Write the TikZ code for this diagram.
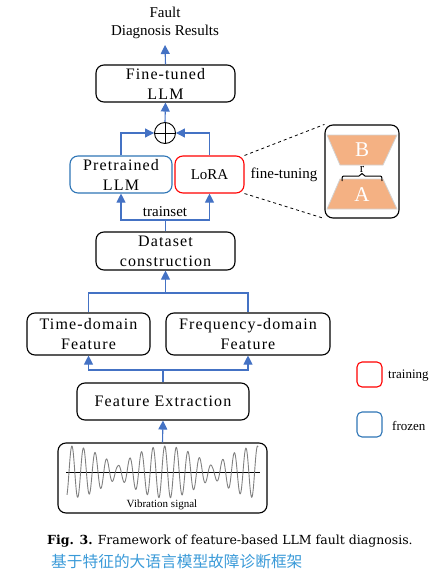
\documentclass[tikz,border=0pt]{standalone}
\usepackage{fontspec}
\setmainfont{Liberation Serif}
\newfontfamily\boxfont[LetterSpace=7]{Liberation Serif}
\newfontfamily\capfont{DejaVu Serif}
\newfontfamily\cjk{Noto Sans CJK SC}
\usetikzlibrary{arrows.meta,calc}
\definecolor{arrowblue}{HTML}{4472C4}
\definecolor{frozenblue}{HTML}{2E75B6}
\definecolor{peach}{HTML}{F4B183}
\definecolor{capblue}{HTML}{3A9AD8}
\begin{document}
\begin{tikzpicture}[x=1pt,y=-1pt,
  box/.style={draw=black, line width=1.1pt, rounded corners=8pt, align=center,
    font=\boxfont\fontsize{16}{20}\selectfont, inner sep=0pt},
  frozenbox/.style={box, draw=frozenblue},
  trainbox/.style={box, draw=red},
  lbl/.style={font=\fontsize{15}{18}\selectfont, align=center, inner sep=0pt},
  conn/.style={draw=arrowblue, line width=1.1pt},
  arr/.style={conn, -{Triangle[width=9pt,length=9pt]}},
  trap/.style={fill=peach, draw=gray!35, line width=0.8pt},
]
\useasboundingbox (0,0) rectangle (442,583);

% result text
\node[lbl, font=\fontsize{15}{18}\selectfont] (res) at (165,23) {Fault\\Diagnosis Results};
\coordinate (restip) at (165,45);

% boxes
\node[box, minimum width=139pt, minimum height=37pt] (ft) at (165.5,83.5) {Fine-tuned\\LLM};
\node[circle, draw=black, line width=0.9pt, minimum size=21pt, inner sep=0pt,
  path picture={\draw[line width=0.9pt] (path picture bounding box.north) -- (path picture bounding box.south)
     (path picture bounding box.west) -- (path picture bounding box.east);}] (plus) at (165,133) {};
\node[frozenbox, minimum width=102pt, minimum height=37pt] (pre) at (121,174.5) {Pretrained\\LLM};
\node[trainbox, minimum width=69pt, minimum height=37pt, font=\fontsize{15}{18}\selectfont] (lora) at (209.5,174.5) {LoRA};
\node[box, minimum width=139pt, minimum height=38pt] (ds) at (165.5,251) {Dataset\\construction};
\node[box, minimum width=123pt, minimum height=42pt] (time) at (88.5,334) {Time-domain\\Feature};
\node[box, minimum width=164pt, minimum height=42pt] (freq) at (248,334) {Frequency-domain\\Feature};
\node[box, minimum width=172pt, minimum height=37pt] (fe) at (163,401.5) {Feature Extraction};
\node[box, minimum width=209pt, minimum height=70pt] (vib) at (162.5,478) {};

% labels
\node[lbl] (trainset) at (165,212) {trainset};
\node[lbl] (ftun) at (284,175) {fine-tuning};

% magnified LoRA
\node[box, minimum width=74pt, minimum height=93pt] (mag) at (362,171.5) {};
\draw[trap] (327,135) -- (397,135) -- (383,165) -- (340,165) -- cycle;
\draw[trap] (340,179) -- (383,179) -- (397,209) -- (327,209) -- cycle;
\node[font=\fontsize{21}{21}\selectfont, text=white] (bl) at (362,150) {B};
\node[font=\fontsize{21}{21}\selectfont, text=white] (al) at (362,194.5) {A};
\draw[black, line width=1pt] (342,181) .. controls (342,176) .. (346,176) -- (359,176) -- (362,173.5) -- (365,176) -- (378,176) .. controls (382,176) .. (382,181);
\node[font=\fontsize{13}{13}\selectfont, inner sep=0pt] (rl) at (362,169) {r};

% connectors
\draw[arr] (ft.north) -- (restip);
\draw[arr] (plus.north) -- (ft.south);
\draw[arr] (pre.north) |- (plus.west);
\draw[arr] (lora.north) |- (plus.east);
\coordinate (j1) at (165.5,220);
\draw[conn] (ds.north) -- (j1);
\draw[arr] (j1) -| (pre.south);
\draw[arr] (j1) -| (lora.south);
\coordinate (j2) at (165.5,293);
\draw[arr] (j2) -- (ds.south);
\draw[conn] (time.north) |- (j2) -| (freq.north);
\coordinate (j3) at (163,370);
\draw[conn] (fe.north) -- (j3);
\draw[arr] (j3) -| (time.south);
\draw[arr] (j3) -| (freq.south);
\draw[arr] (vib.north) -- (fe.south);
\draw[dashed, line width=0.8pt] (lora.north east) -- (mag.north west);
\draw[dashed, line width=0.8pt] (lora.south east) -- (mag.south west);

% waveform
\draw[line width=0.7pt] (66,472) -- (260,472);
\draw[gray, line width=0.9pt] plot[domain=67:258, samples=600, smooth]
  (\x, {472 - (6+20*abs(cos(1.8947*(\x-70))))*sin(31.034*(\x-69))});
\node[font=\fontsize{11}{11}\selectfont] (vs) at (162,505) {Vibration signal};

% legend
\node[draw=red, line width=1.1pt, rounded corners=5pt, minimum size=25pt, inner sep=0pt] (lt) at (369.5,374.5) {};
\node[font=\fontsize{13}{13}\selectfont, anchor=west, inner sep=0pt] (ltl) at (388,376) {training};
\node[draw=frozenblue, line width=1.1pt, rounded corners=5pt, minimum size=25pt, inner sep=0pt] (lf) at (369.5,424.5) {};
\node[font=\fontsize{13}{13}\selectfont, anchor=west, inner sep=0pt] (lfl) at (392,426) {frozen};

% caption
\node[anchor=west, inner sep=0pt, font=\capfont\fontsize{12.5}{13}\selectfont] (cap) at (47,541)
  {\textbf{Fig. 3.}\hspace{5pt}Framework of feature-based LLM fault diagnosis.};
\node[anchor=west, inner sep=0pt, font=\cjk\fontsize{15.7}{15.7}\selectfont, text=capblue] (cn) at (51,562)
  {基于特征的大语言模型故障诊断框架};
\end{tikzpicture}
\end{document}
